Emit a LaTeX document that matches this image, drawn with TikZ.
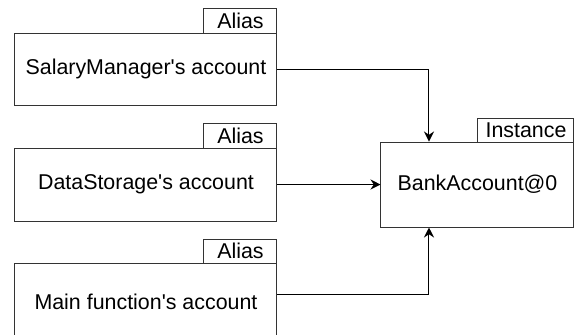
\documentclass[tikz,border=0pt]{standalone}
\usepackage{fontspec}
\setmainfont{Liberation Sans}
\usetikzlibrary{arrows.meta,calc}
\tikzset{
  objbox/.style={draw=black!80, line width=0.5pt, inner sep=0pt, minimum width=131pt},
  tabbox/.style={draw=black!80, line width=0.5pt, inner sep=0pt},
  link/.style={draw=black, line width=0.5pt, -{Stealth[length=5pt,width=5pt]}}
}
\newcommand{\apos}{\textquotesingle}
\begin{document}
\begin{tikzpicture}[x=0.5pt, y=-0.5pt, font=\fontsize{10.7}{12.8}\selectfont]
\useasboundingbox (0,0) rectangle (575,334);
% aliases on the left
\node[objbox, minimum height=36pt] (salary) at (146,69) {SalaryManager\apos s account};
\node[tabbox, minimum width=36.5pt, minimum height=12.5pt] (salarytab) at (240.5,20.5) {Alias};
\node[objbox, minimum height=36.5pt] (storage) at (146,184.5) {DataStorage\apos s account};
\node[tabbox, minimum width=36.5pt, minimum height=12.5pt] (storagetab) at (240.5,135.5) {Alias};
\node[objbox, minimum height=39pt] (mainfn) at (146,302) {Main function\apos s account};
\node[tabbox, minimum width=36.5pt, minimum height=12pt] (mainfntab) at (240.5,251) {Alias};
% the one instance
\node[objbox, minimum width=96.5pt, minimum height=42.5pt] (bank) at (477.5,184.5) {BankAccount@0};
\node[tabbox, minimum width=48pt, minimum height=12pt] (banktab) at (526,130) {Instance};
% references
\draw[link] (salary.east) -| ($(bank.north west)!0.25!(bank.north east)$);
\draw[link] (storage.east) -- (bank.west);
\draw[link] ([yshift=4pt]mainfn.east) -| ($(bank.south west)!0.25!(bank.south east)$);
\end{tikzpicture}
\end{document}
